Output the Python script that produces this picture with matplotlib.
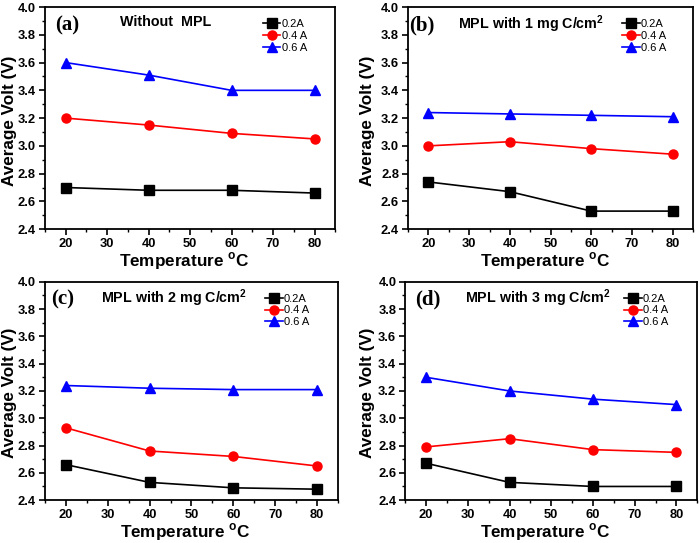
import matplotlib
matplotlib.use("Agg")
import matplotlib.pyplot as plt
from matplotlib.ticker import MultipleLocator

temps = [20, 40, 60, 80]
series_labels = ["0.2A", "0.4 A", "0.6 A"]
colors = ["black", "red", "blue"]
markers = ["s", "o", "^"]

a_02 = [2.70, 2.68, 2.68, 2.66]
a_04 = [3.20, 3.15, 3.09, 3.05]
a_06 = [3.60, 3.51, 3.40, 3.40]

b_02 = [2.74, 2.67, 2.53, 2.53]
b_04 = [3.00, 3.03, 2.98, 2.94]
b_06 = [3.24, 3.23, 3.22, 3.21]

c_02 = [2.66, 2.53, 2.49, 2.48]
c_04 = [2.93, 2.76, 2.72, 2.65]
c_06 = [3.24, 3.22, 3.21, 3.21]

d_02 = [2.67, 2.53, 2.50, 2.50]
d_04 = [2.79, 2.85, 2.77, 2.75]
d_06 = [3.30, 3.20, 3.14, 3.10]

yticks = [2.4, 2.6, 2.8, 3.0, 3.2, 3.4, 3.6, 3.8, 4.0]

panel_tags = ["(a)", "(b)", "(c)", "(d)"]
panel_titles = ["Without  MPL", "MPL with 1 mg C/cm$^\\mathbf{2}$",
                "MPL with 2 mg C/cm$^\\mathbf{2}$", "MPL with 3 mg C/cm$^\\mathbf{2}$"]
panel_data = [(a_02, a_04, a_06), (b_02, b_04, b_06), (c_02, c_04, c_06), (d_02, d_04, d_06)]

plt.rcParams['font.family'] = ['Liberation Sans', 'DejaVu Sans']
plt.rcParams['mathtext.fontset'] = 'custom'
plt.rcParams['mathtext.rm'] = 'Liberation Sans'
plt.rcParams['mathtext.bf'] = 'Liberation Sans:bold'

fig = plt.figure(figsize=(7.0, 5.43), dpi=100)
rects = [
    [0.064, 0.578, 0.415, 0.409],
    [0.583, 0.578, 0.407, 0.409],
    [0.064, 0.079, 0.419, 0.402],
    [0.579, 0.079, 0.417, 0.402],
]
title_x = [0.417, 0.43, 0.44, 0.454]
tag_x = [0.03, 0.0, 0.017, 0.027]
title_y = [0.932, 0.925, 0.925, 0.925]
ylabel_x = [-0.097, -0.116, -0.096, -0.103]

for i, rect in enumerate(rects):
    ax = fig.add_axes(rect)
    for vals, lab, col, mk in zip(panel_data[i], series_labels, colors, markers):
        ax.plot(temps, vals, color=col, marker=mk, markersize=6.5, linewidth=1.2, label=lab)
    ax.set_xlim(15, 85)
    ax.set_ylim(2.4, 4.0)
    ax.xaxis.set_major_locator(MultipleLocator(10))
    ax.xaxis.set_minor_locator(MultipleLocator(5))
    ax.yaxis.set_minor_locator(MultipleLocator(0.1))
    ax.set_yticks(yticks)
    ax.set_yticklabels(["%.1f" % v for v in yticks])
    ax.tick_params(axis='both', which='major', direction='out', length=4, width=1.2,
                   labelsize=9.3, pad=2.5)
    ax.tick_params(axis='both', which='minor', direction='out', length=2, width=1.0)
    for lbl in ax.get_xticklabels() + ax.get_yticklabels():
        lbl.set_fontweight('bold')
    for sp in ax.spines.values():
        sp.set_linewidth(1.3)
    ax.set_xlabel("Temperature $^\\mathbf{o}$C", fontsize=12.3, fontweight='bold')
    ax.set_ylabel("Average Volt (V)", fontsize=12.3, fontweight='bold')
    ax.xaxis.set_label_coords(0.48, -21.5 / (rect[3] * 543))
    ax.yaxis.set_label_coords(ylabel_x[i], 0.49)
    ax.text(tag_x[i] + 0.005, 0.919, panel_tags[i], transform=ax.transAxes, fontsize=15,
            fontweight='bold', family='Liberation Serif', va='center', ha='left')
    ax.text(title_x[i], title_y[i], panel_titles[i], transform=ax.transAxes, fontsize=10.3,
            fontweight='bold', ha='center', va='center')
    ax.legend(loc='upper left', bbox_to_anchor=(0.75, 0.945), frameon=False,
              fontsize=8, handlelength=1.6, handletextpad=0.1, labelspacing=0.15,
              borderaxespad=0, borderpad=0)

fig.savefig("out.png", dpi=100)
